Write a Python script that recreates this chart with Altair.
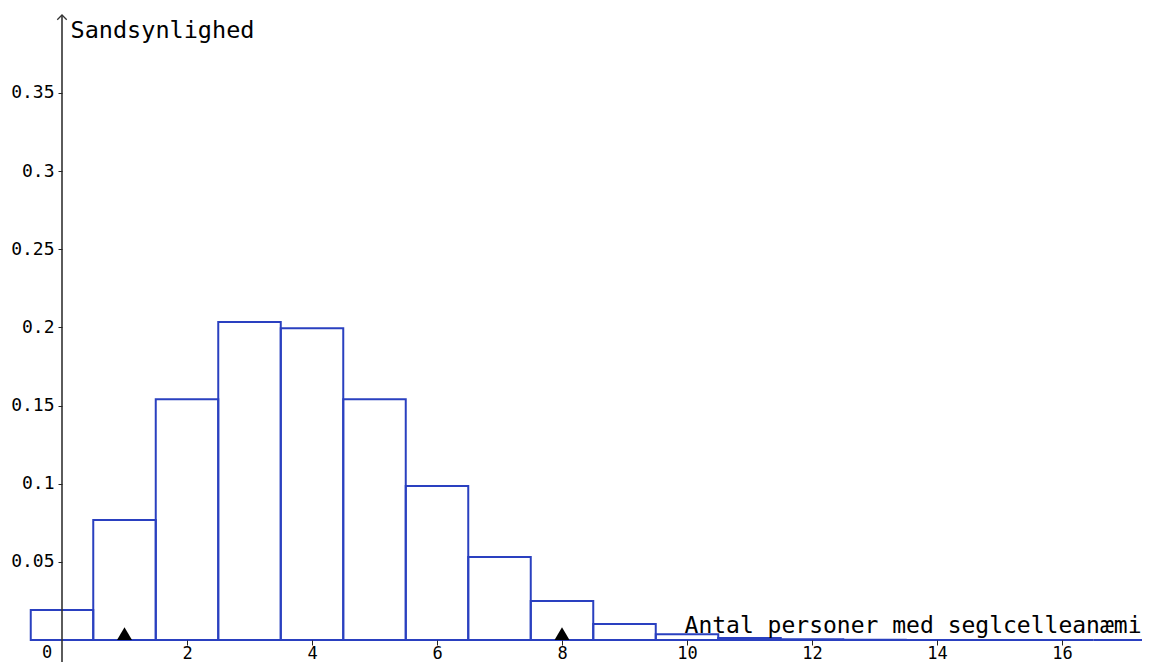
import altair as alt
import pandas as pd

# ---- data ----
k_values = list(range(0, 18))
probabilities = [0.0192, 0.0768, 0.1540, 0.2035, 0.1995, 0.1540, 0.0985, 0.0531,
                 0.0250, 0.0102, 0.0036, 0.0013, 0.0004, 0.0001, 0.00003, 0.00001,
                 0.0, 0.0]
marker_x = [1, 8]
x_tick_values = [2, 4, 6, 8, 10, 12, 14, 16]
y_tick_values = [0.05, 0.1, 0.15, 0.2, 0.25, 0.3, 0.35]
x_title = "Antal personer med seglcelleanæmi"
y_title = "Sandsynlighed"
zero_label = ["0"]

W, H = 1134, 654
PX_X = 62.5       # px per unit on x
PX_Y = 1562.9     # px per unit on y
X0_PX = 54        # plot-x of value 0
Y0_PX = 632       # plot-y of value 0

# view window (axis units)
x_domain = [-X0_PX / PX_X, (W - X0_PX) / PX_X]
y_domain = [-(H - Y0_PX) / PX_Y, Y0_PX / PX_Y]
y_arrow_top = 0.3999

FONT = "DejaVu Sans Mono"
BLUE = "#2a40c0"

bars = pd.DataFrame({
    "k": k_values,
    "lo": [k - 0.5 for k in k_values],
    "hi": [k + 0.5 for k in k_values],
    "base": [0.0] * len(k_values),
    "p": probabilities,
})

xs = alt.Scale(domain=x_domain, nice=False, zero=False)
ys = alt.Scale(domain=y_domain, nice=False, zero=False)

x_axis = alt.Axis(
    orient="bottom", offset=-(H - Y0_PX), values=x_tick_values, domain=False, grid=False,
    ticks=True, tickSize=5, tickColor="#222", tickWidth=1, format="d",
    labelFont=FONT, labelFontSize=17, labelColor="black", labelPadding=0,
    labelFlush=False, labelOverlap=False,
    title=x_title, titleFont=FONT, titleFontSize=23, titleFontWeight="normal",
    titleColor="black", titleAngle=0, titleAlign="right", titleBaseline="alphabetic",
    titleX=W - 1, titleY=-8, zindex=1,
)
y_axis = alt.Axis(
    orient="left", offset=-X0_PX, values=y_tick_values, domain=False, grid=False,
    ticks=True, tickSize=4, tickColor="#222", tickWidth=1, format=".2~f",
    labelFont=FONT, labelFontSize=18, labelColor="black", labelPadding=4,
    labelFlush=False, labelOverlap=False, labelBaseline="middle",
    title=y_title, titleFont=FONT, titleFontSize=23.5, titleFontWeight="normal",
    titleColor="black", titleAngle=0, titleAlign="left", titleBaseline="middle",
    titleX=8, titleY=22, zindex=1,
)

bar_layer = alt.Chart(bars).mark_rect(
    filled=False, stroke=BLUE, strokeWidth=2
).encode(
    x=alt.X("lo:Q", scale=xs, axis=x_axis),
    x2="hi:Q",
    y=alt.Y("base:Q", scale=ys, axis=y_axis),
    y2="p:Q",
)

yaxis_df = pd.DataFrame({"x": [0.0], "y0": [y_domain[0]], "y1": [y_arrow_top]})
yaxis_rule = alt.Chart(yaxis_df).mark_rule(color="#333", strokeWidth=1.6).encode(
    x=alt.X("x:Q", scale=xs), y=alt.Y("y0:Q", scale=ys), y2="y1:Q"
)

arrow_df = pd.DataFrame({"x": [0.0], "y": [y_arrow_top]})
arrow = alt.Chart(arrow_df).mark_point(
    shape="M-1,1L0,0L1,1", size=90, filled=False, stroke="#333",
    strokeWidth=1.3, opacity=1
).encode(x=alt.X("x:Q", scale=xs), y=alt.Y("y:Q", scale=ys))

markers_df = pd.DataFrame({"x": marker_x, "y": [0.0] * len(marker_x)})
markers = alt.Chart(markers_df).mark_point(
    shape="M-1,0L1,0L0,-1.7Z", size=225, filled=True, color="black", opacity=1,
    strokeWidth=0
).encode(x=alt.X("x:Q", scale=xs), y=alt.Y("y:Q", scale=ys))

zero_df = pd.DataFrame({"x": [0.0], "y": [0.0], "t": zero_label})
zero_text = alt.Chart(zero_df).mark_text(
    font=FONT, fontSize=17, color="black", align="center", baseline="top",
    dx=-15, dy=5
).encode(x=alt.X("x:Q", scale=xs), y=alt.Y("y:Q", scale=ys), text="t:N")

chart = alt.layer(bar_layer, yaxis_rule, arrow, markers, zero_text).properties(
    width=W, height=H, autosize=alt.AutoSizeParams(type="none"), padding=0,
    background="white",
).configure_view(stroke=None)

chart.save("out.html", embed_options={"renderer": "svg", "actions": False})
